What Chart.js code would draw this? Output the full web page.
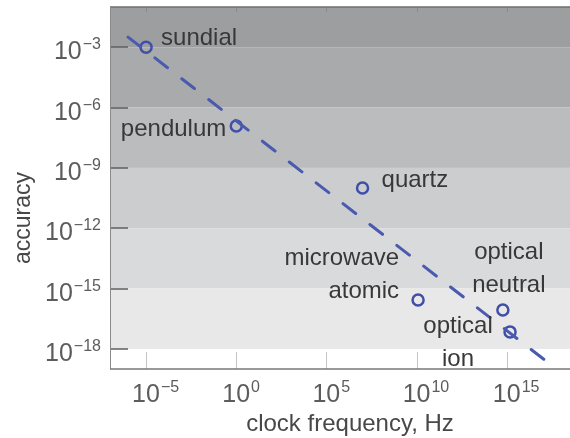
<!DOCTYPE html>
<html>
<head>
<meta charset="utf-8">
<script src="https://cdn.jsdelivr.net/npm/chart.js@4.4.1/dist/chart.umd.min.js"></script>
<style>
  html, body { margin: 0; padding: 0; background: #fff; }
</style>
</head>
<body>
<canvas id="clockChart" width="570" height="438"></canvas>
<script>
// clock types: frequency (Hz) vs fractional accuracy
const clockNames = ['sundial', 'pendulum', 'quartz', 'microwave\natomic', 'optical\nneutral', 'optical\nion'];
const clockFreqs = [1e-5, 1, 1e7, 1.2e10, 6e14, 1.5e15];
const clockAccuracy = [1e-3, 1.2e-7, 1e-10, 2.7e-16, 8.5e-17, 7e-18];

// dashed trend line
const trendFreqs = [1e-6, 7e17];
const trendAccuracy = [3.2e-3, 8.5e-20];

// tick exponents (powers of ten)
const xTickExps = [-5, 0, 5, 10, 15];
const yTickExps = [-3, -6, -9, -12, -15, -18];

// shaded accuracy bands, edges as powers of ten
const bandEdges = [-1, -3, -6, -9, -12, -15, -18];
const bandColors = ['#9c9ea0', '#a8aaac', '#babcbe', '#cbcdcf', '#d9dadc', '#e8e8e9'];

const FONT = '"Liberation Sans", Arial, sans-serif';

// label placement relative to each point: dx, dy (first baseline), align
const labelOffsets = [
    [15, -2, 'left'],
    [-10, 10, 'right'],
    [19, -1, 'left'],
    [-19, -35, 'right'],
    [6, -51, 'center'],
    [-52, 1, 'center']
];

function drawPow(ctx, exp, x, y, align) {
    // draws "10" with a superscript exponent; x is left or right edge
    const base = '10';
    const sup = (exp < 0 ? '\u2212' : '') + Math.abs(exp);
    ctx.font = '25px ' + FONT;
    const bw = ctx.measureText(base).width;
    ctx.font = '16px ' + FONT;
    const sw = ctx.measureText(sup).width;
    let left = x;
    if (align === 'right') left = x - bw - sw - 1;
    ctx.textAlign = 'left';
    ctx.textBaseline = 'alphabetic';
    ctx.font = '25px ' + FONT;
    ctx.fillText(base, left, y);
    ctx.font = '16px ' + FONT;
    ctx.fillText(sup, left + bw + 1, y - 10);
}

const clockDecor = {
    id: 'clockDecor',
    beforeDatasetsDraw(chart) {
        const ctx = chart.ctx;
        const area = chart.chartArea;
        const xs = chart.scales.x;
        const ys = chart.scales.y;
        ctx.save();
        // gray bands
        for (let i = 0; i < bandColors.length; i++) {
            const top = ys.getPixelForValue(Math.pow(10, bandEdges[i]));
            const bot = ys.getPixelForValue(Math.pow(10, bandEdges[i + 1]));
            ctx.fillStyle = bandColors[i];
            ctx.fillRect(area.left, top, area.right - area.left, bot - top);
        }
        // x ticks (pointing up from the axis, plus small ones at the top)
        ctx.lineWidth = 1;
        xTickExps.forEach(e => {
            const px = Math.round(xs.getPixelForValue(Math.pow(10, e))) + 0.5;
            ctx.strokeStyle = '#c4c4c4';
            ctx.beginPath();
            ctx.moveTo(px, area.bottom);
            ctx.lineTo(px, area.bottom - 17);
            ctx.stroke();
            ctx.strokeStyle = '#8a8a8a';
            ctx.beginPath();
            ctx.moveTo(px, area.top);
            ctx.lineTo(px, area.top + 5);
            ctx.stroke();
        });
        // y ticks pointing into the plot
        ctx.strokeStyle = '#5e5e5e';
        ctx.lineWidth = 1.5;
        yTickExps.forEach(e => {
            const py = Math.round(ys.getPixelForValue(Math.pow(10, e)));
            ctx.beginPath();
            ctx.moveTo(area.left, py);
            ctx.lineTo(area.left + 18, py);
            ctx.stroke();
        });
        // frame: top, left, bottom
        ctx.strokeStyle = '#6e6e6e';
        ctx.lineWidth = 1.5;
        ctx.beginPath();
        ctx.moveTo(area.left, area.top);
        ctx.lineTo(area.right, area.top);
        ctx.stroke();
        ctx.strokeStyle = '#8a8a8a';
        ctx.lineWidth = 1;
        ctx.beginPath();
        ctx.moveTo(area.left + 0.5, area.top);
        ctx.lineTo(area.left + 0.5, area.bottom);
        ctx.stroke();
        ctx.strokeStyle = '#777';
        ctx.lineWidth = 1.5;
        ctx.beginPath();
        ctx.moveTo(area.left, area.bottom);
        ctx.lineTo(area.right, area.bottom);
        ctx.stroke();
        ctx.restore();
    },
    afterDatasetsDraw(chart) {
        const ctx = chart.ctx;
        const area = chart.chartArea;
        const xs = chart.scales.x;
        const ys = chart.scales.y;
        ctx.save();
        // tick labels
        ctx.fillStyle = '#5c5c5c';
        yTickExps.forEach(e => {
            const py = ys.getPixelForValue(Math.pow(10, e));
            drawPow(ctx, e, 101, py + 12, 'right');
        });
        xTickExps.forEach(e => {
            const px = xs.getPixelForValue(Math.pow(10, e));
            drawPow(ctx, e, px - 14, area.bottom + 33, 'left');
        });
        // axis titles
        ctx.fillStyle = '#484848';
        ctx.font = '24px ' + FONT;
        ctx.textAlign = 'center';
        ctx.textBaseline = 'middle';
        ctx.fillText('clock frequency, Hz', 350, 424);
        ctx.save();
        ctx.translate(24, 218);
        ctx.rotate(-Math.PI / 2);
        ctx.font = '23px ' + FONT;
        ctx.fillText('accuracy', 0, 0);
        ctx.restore();
        // point labels
        ctx.fillStyle = '#383838';
        ctx.font = '24px ' + FONT;
        ctx.textBaseline = 'alphabetic';
        clockNames.forEach((name, i) => {
            const px = xs.getPixelForValue(clockFreqs[i]);
            const py = ys.getPixelForValue(clockAccuracy[i]);
            const off = labelOffsets[i];
            ctx.textAlign = off[2];
            name.split('\n').forEach((line, j) => {
                ctx.fillText(line, px + off[0], py + off[1] + j * 33);
            });
        });
        ctx.restore();
    }
};

const ctx = document.getElementById('clockChart').getContext('2d');
new Chart(ctx, {
    type: 'scatter',
    data: {
        datasets: [
            {
                label: 'trend',
                data: trendFreqs.map((f, i) => ({ x: f, y: trendAccuracy[i] })),
                showLine: true,
                borderColor: '#4a5aaf',
                borderWidth: 3,
                borderDash: [16, 18],
                borderCapStyle: 'round',
                pointRadius: 0,
                fill: false
            },
            {
                label: 'clocks',
                data: clockFreqs.map((f, i) => ({ x: f, y: clockAccuracy[i] })),
                showLine: false,
                pointRadius: 5.5,
                pointBorderWidth: 2.5,
                pointBorderColor: '#3f4fa8',
                pointBackgroundColor: 'rgba(0,0,0,0)'
            }
        ]
    },
    options: {
        responsive: false,
        animation: false,
        devicePixelRatio: 1,
        layout: { autoPadding: false, padding: { top: 7, right: 0, left: 0, bottom: 0 } },
        plugins: {
            legend: { display: false },
            tooltip: { enabled: false }
        },
        scales: {
            x: {
                type: 'logarithmic',
                min: 1e-7,
                max: Math.pow(10, 18.5),
                afterBuildTicks: s => { s.ticks = xTickExps.map(e => ({ value: Math.pow(10, e) })); },
                afterFit: s => { s.height = 69; },
                ticks: { display: false },
                grid: { display: false },
                border: { display: false }
            },
            y: {
                type: 'logarithmic',
                min: 1e-19,
                max: 1e-1,
                afterBuildTicks: s => { s.ticks = yTickExps.map(e => ({ value: Math.pow(10, e) })); },
                afterFit: s => { s.width = 110; },
                ticks: { display: false },
                grid: { display: false },
                border: { display: false }
            }
        }
    },
    plugins: [clockDecor]
});
</script>
</body>
</html>
